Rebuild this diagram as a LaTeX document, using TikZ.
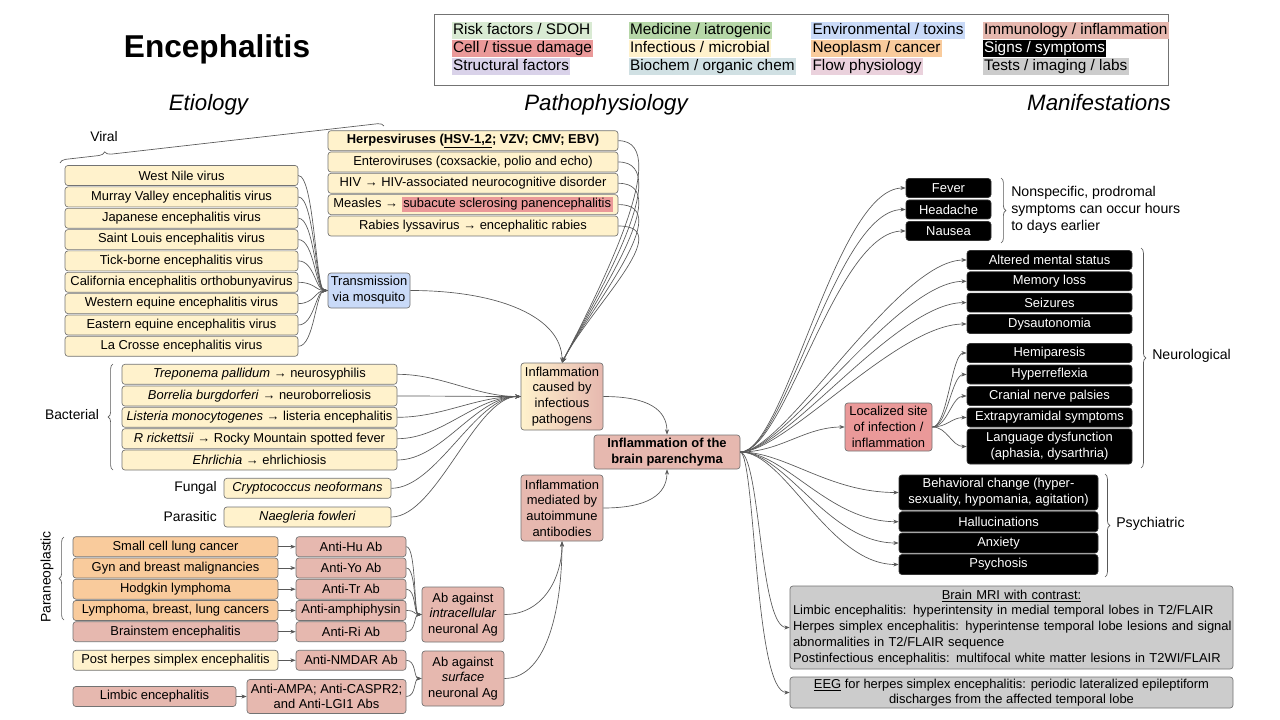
\documentclass[tikz,border=0pt]{standalone}
\usepackage{fontspec}
\setmainfont{Liberation Sans}
\usetikzlibrary{arrows.meta,decorations.pathreplacing}
\definecolor{cinf}{HTML}{FFF2CC}
\definecolor{cneo}{HTML}{F9CB9C}
\definecolor{cimm}{HTML}{E6B8AF}
\definecolor{ccell}{HTML}{EA9999}
\definecolor{cenv}{HTML}{C9DAF8}
\definecolor{crisk}{HTML}{D9EAD3}
\definecolor{cmed}{HTML}{B6D7A8}
\definecolor{cstr}{HTML}{D9D2E9}
\definecolor{cbio}{HTML}{D0E0E3}
\definecolor{cflow}{HTML}{EAD1DC}
\definecolor{ctest}{HTML}{CCCCCC}
\definecolor{cline}{HTML}{595959}
\newcommand\bxf{\fontsize{9.7}{11.8}\selectfont}
\newcommand\lgf{\fontsize{11.5}{13}\selectfont}
\newcommand\lbf{\fontsize{10.4}{12.6}\selectfont}
\newcommand\hdf{\fontsize{16.7}{20}\selectfont\itshape}
\begin{document}
\begin{tikzpicture}[x=0.75pt,y=-0.75pt,
  wh/.style 2 args={minimum width=#1*0.75pt,minimum height=#2*0.75pt},
  box/.style={draw=black!55,line width=0.5pt,rounded corners=2.2pt,inner sep=1pt,align=center,font=\bxf},
  inf/.style={box,fill=cinf},
  neo/.style={box,fill=cneo},
  imm/.style={box,fill=cimm},
  cell/.style={box,fill=ccell},
  envb/.style={box,fill=cenv},
  sym/.style={box,fill=black,draw=black!80,text=white},
  tst/.style={box,fill=ctest},
  conn/.style={draw=cline,line width=0.5pt,-{Stealth[length=4pt,width=3pt]}},
  brc/.style={draw=black!65,line width=0.5pt,decorate,decoration={brace,amplitude=3.6pt}},
  lg/.style={anchor=west,font=\lgf,inner xsep=1pt,inner ysep=0pt,text height=10pt,text depth=3.3pt},
  lbl/.style={font=\lbf,inner sep=0pt},
]
\fill[white] (0,0) rectangle (1280,720);
\useasboundingbox (0,0) rectangle (1280,720);

% titles
\node[font=\fontsize{23.7}{28}\selectfont\bfseries,anchor=base] (title) at (217,58) {Encephalitis};
\node[font=\hdf,anchor=base] (hEt) at (208.5,110.5) {Etiology};
\node[font=\hdf,anchor=base] (hPa) at (606,110.5) {Pathophysiology};
\node[font=\hdf,anchor=base] (hMa) at (1099,110.5) {Manifestations};

% legend
\node[draw=black!55,line width=0.6pt,wh={734}{71},inner sep=0pt] (legend) at (801,49.5) {};
\node[lg,fill=crisk] (l1) at (451.5,30.5) {Risk factors / SDOH};
\node[lg,fill=ccell] (l2) at (451.5,48.5) {Cell / tissue damage};
\node[lg,fill=cstr] (l3) at (451.5,66.5) {Structural factors};
\node[lg,fill=cmed] (l4) at (628.5,30.5) {Medicine / iatrogenic};
\node[lg,fill=cinf] (l5) at (628.5,48.5) {Infectious / microbial};
\node[lg,fill=cbio] (l6) at (628.5,66.5) {Biochem / organic chem};
\node[lg,fill=cenv] (l7) at (811,30.5) {Environmental / toxins};
\node[lg,fill=cneo] (l8) at (811,48.5) {Neoplasm / cancer};
\node[lg,fill=cflow] (l9) at (811,66.5) {Flow physiology};
\node[lg,fill=cimm] (l10) at (982.5,30.5) {Immunology / inflammation};
\node[lg,fill=black,text=white] (l11) at (982.5,48.5) {Signs / symptoms};
\node[lg,fill=ctest] (l12) at (982.5,66.5) {Tests / imaging / labs};

% viral
\node[lbl] (lvir) at (104,137) {Viral};
\draw[brc,decoration={brace,amplitude=4.5pt,aspect=0.14}] (60,163) -- (384,126);
\node[inf,wh={233}{20}] (v1) at (181.5,175.5) {West Nile virus};
\node[inf,wh={233}{20}] (v2) at (181.5,196.9) {Murray Valley encephalitis virus};
\node[inf,wh={233}{20}] (v3) at (181.5,218.2) {Japanese encephalitis virus};
\node[inf,wh={233}{20}] (v4) at (181.5,239.6) {Saint Louis encephalitis virus};
\node[inf,wh={233}{20}] (v5) at (181.5,260.9) {Tick-borne encephalitis virus};
\node[inf,wh={233}{20}] (v6) at (181.5,282.3) {California encephalitis orthobunyavirus};
\node[inf,wh={233}{20}] (v7) at (181.5,303.6) {Western equine encephalitis virus};
\node[inf,wh={233}{20}] (v8) at (181.5,325.0) {Eastern equine encephalitis virus};
\node[inf,wh={233}{20}] (v9) at (181.5,346.3) {La Crosse encephalitis virus};
\node[envb,wh={82}{35}] (tm) at (369,290.5) {Transmission\\via mosquito};

\node[inf,wh={290}{20}] (t1) at (473,140.7) {\textbf{Herpesviruses (\underline{HSV-1,2}; VZV; CMV; EBV)}};
\node[inf,wh={290}{20}] (t2) at (473,162) {Enteroviruses (coxsackie, polio and echo)};
\node[inf,wh={290}{20}] (t3) at (473,183.3) {HIV → HIV-associated neurocognitive disorder};
\node[inf,wh={290}{20}] (t4) at (473,204.6) {Measles → {\setlength{\fboxsep}{1.2pt}\colorbox{ccell}{subacute sclerosing panencephalitis}}};
\node[inf,wh={290}{20}] (t5) at (473,226) {Rabies lyssavirus → encephalitic rabies};

% central
\node[box,left color=cinf,right color=cimm,wh={82}{67}] (cau) at (562,396.5) {Inflammation\\caused by\\infectious\\pathogens};
\node[imm,wh={82}{66}] (med) at (562,508) {Inflammation\\mediated by\\autoimmune\\antibodies};
\node[imm,wh={146}{34},font=\bxf\bfseries] (par) at (667,452) {Inflammation of the\\brain parenchyma};

% bacterial etc
\node[lbl] (lbac) at (72,415) {Bacterial};
\draw[brc] (113,470) -- (113,364);
\node[inf,wh={275}{20}] (b1) at (259.5,374.3) {\textit{Treponema pallidum} → neurosyphilis};
\node[inf,wh={275}{20}] (b2) at (259.5,396) {\textit{Borrelia burgdorferi} → neuroborreliosis};
\node[inf,wh={275}{20}] (b3) at (259.5,417.3) {\textit{Listeria monocytogenes} → listeria encephalitis};
\node[inf,wh={275}{20}] (b4) at (259.5,438.7) {\textit{R rickettsii} → Rocky Mountain spotted fever};
\node[inf,wh={275}{20}] (b5) at (259.5,460) {\textit{Ehrlichia} → ehrlichiosis};
\node[lbl,anchor=east] (lfun) at (217,488.3) {Fungal};
\node[inf,wh={167}{20}] (f1) at (307.5,488.3) {\textit{Cryptococcus neoformans}};
\node[lbl,anchor=east] (lpara) at (217,517) {Parasitic};
\node[inf,wh={167}{20}] (p1) at (307.5,517) {\textit{Naegleria fowleri}};

% paraneoplastic
\node[lbl,rotate=90] (lpar) at (47,577) {Paraneoplastic};
\draw[brc] (64,620) -- (64,537);
\node[neo,wh={205}{20}] (c1) at (175.5,546.7) {Small cell lung cancer};
\node[neo,wh={205}{20}] (c2) at (175.5,568) {Gyn and breast malignancies};
\node[neo,wh={205}{20}] (c3) at (175.5,589.2) {Hodgkin lymphoma};
\node[neo,wh={205}{20}] (c4) at (175.5,610.5) {Lymphoma, breast, lung cancers};
\node[imm,wh={205}{20}] (c5) at (175.5,631.7) {Brainstem encephalitis};
\node[inf,wh={205}{20}] (c6) at (175.5,660.3) {Post herpes simplex encephalitis};
\node[imm,wh={163}{20}] (c7) at (154.5,696.5) {Limbic encephalitis};
\node[imm,wh={110}{20}] (a1) at (351,546.7) {Anti-Hu Ab};
\node[imm,wh={110}{20}] (a2) at (351,568) {Anti-Yo Ab};
\node[imm,wh={110}{20}] (a3) at (351,589.2) {Anti-Tr Ab};
\node[imm,wh={110}{20}] (a4) at (351,610.5) {Anti-amphiphysin};
\node[imm,wh={110}{20}] (a5) at (351,631.7) {Anti-Ri Ab};
\node[imm,wh={110}{20}] (a6) at (351,660.3) {Anti-NMDAR Ab};
\node[imm,wh={159}{34}] (a7) at (326.5,696.5) {Anti-AMPA; Anti-CASPR2;\\and Anti-LGI1 Abs};
\node[imm,wh={82}{55}] (intra) at (463,614.5) {Ab against\\\textit{intracellular}\\neuronal Ag};
\node[imm,wh={82}{55}] (surf) at (463,678.5) {Ab against\\\textit{surface}\\neuronal Ag};

% manifestations
\node[sym,wh={85}{19}] (s1) at (948.5,188) {Fever};
\node[sym,wh={85}{19}] (s2) at (948.5,209.5) {Headache};
\node[sym,wh={85}{19}] (s3) at (948.5,231) {Nausea};
\draw[brc] (1001,178) -- (1001,243);
\node[anchor=west,align=left,inner sep=0pt,font=\fontsize{10.6}{12.8}\selectfont] (nsp) at (1011,209.5) {Nonspecific, prodromal\\symptoms can occur hours\\to days earlier};

\node[sym,wh={165}{19}] (n1) at (1049.5,260) {Altered mental status};
\node[sym,wh={165}{19}] (n2) at (1049.5,281.3) {Memory loss};
\node[sym,wh={165}{19}] (n3) at (1049.5,302.6) {Seizures};
\node[sym,wh={165}{19}] (n4) at (1049.5,324) {Dysautonomia};
\node[sym,wh={165}{19}] (n5) at (1049.5,353) {Hemiparesis};
\node[sym,wh={165}{19}] (n6) at (1049.5,374.5) {Hyperreflexia};
\node[sym,wh={165}{19}] (n7) at (1049.5,396) {Cranial nerve palsies};
\node[sym,wh={165}{19}] (n8) at (1049.5,417.5) {Extrapyramidal symptoms};
\node[sym,wh={165}{35}] (n9) at (1049.5,446.5) {Language dysfunction\\(aphasia, dysarthria)};
\draw[brc] (1141,248) -- (1141,468);
\node[anchor=west,inner sep=0pt,font=\fontsize{10.6}{12.8}\selectfont] (lneu) at (1152,356) {Neurological};
\node[cell,wh={87}{48}] (loc) at (888.5,427) {Localized site\\of infection /\\inflammation};

\node[sym,wh={199}{35}] (ps1) at (998.5,492.5) {Behavioral change (hyper-\\sexuality, hypomania, agitation)};
\node[sym,wh={199}{20}] (ps2) at (998.5,521.7) {Hallucinations};
\node[sym,wh={199}{20}] (ps3) at (998.5,543) {Anxiety};
\node[sym,wh={199}{20}] (ps4) at (998.5,564.5) {Psychosis};
\draw[brc] (1105,474) -- (1105,577);
\node[anchor=west,inner sep=0pt,font=\fontsize{10.6}{12.8}\selectfont] (lpsy) at (1116,524) {Psychiatric};

\node[tst,wh={443}{83},text width=327.75pt,align=left,font=\fontsize{9.7}{11.9}\selectfont] (mri) at (1011.5,627.5) {\makebox[\linewidth]{\underline{Brain MRI with contrast:}}\\
\mbox{Limbic encephalitis: hyperintensity in medial temporal lobes in T2/FLAIR}\\
\mbox{Herpes simplex encephalitis: hyperintense temporal lobe lesions and signal}\\
\mbox{abnormalities in T2/FLAIR sequence}\\
\mbox{Postinfectious encephalitis: multifocal white matter lesions in T2WI/FLAIR}};
\node[tst,wh={443}{31},font=\fontsize{9.7}{11}\selectfont] (eeg) at (1011.5,692.5) {\underline{EEG} for herpes simplex encephalitis: periodic lateralized epileptiform\\discharges from the affected temporal lobe};

% connectors
\foreach \n in {v1,v2,v3,v4,v5,v6,v7,v8,v9}
  \draw[conn] (\n.east) .. controls +(16,0) and +(-12,0) .. (tm.west);
\foreach \n in {t1,t2,t3,t4,t5}
  \draw[conn] (\n.east) .. controls +(60,0) and +(28,-55) .. (cau.north);
\draw[conn] (tm.east) .. controls +(90,0) and +(0,-45) .. (cau.north);
\foreach \n in {b1,b2,b3,b4,b5,f1,p1}
  \draw[conn] (\n.east) .. controls +(45,0) and +(-45,0) .. (cau.west);
\draw[conn] (cau.east) .. controls +(45,0) and +(0,-25) .. (par.north);
\draw[conn] (med.east) .. controls +(45,0) and +(0,25) .. (par.south);
\foreach \i in {1,...,7}
  \draw[conn] (c\i.east) -- (a\i.west);
\foreach \i in {1,...,5}
  \draw[conn] (a\i.east) .. controls +(10,0) and +(-8,0) .. (intra.west);
\foreach \i in {6,7}
  \draw[conn] (a\i.east) .. controls +(10,0) and +(-8,0) .. (surf.west);
\draw[conn] (intra.east) .. controls +(40,0) and +(0,35) .. (med.south);
\draw[conn] (surf.east) .. controls +(45,0) and +(0,60) .. (med.south);
\foreach \n in {s1,s2,s3,n1,n2,n3,n4,ps1,ps2,ps3,ps4}
  \draw[conn] (par.east) .. controls +(45,0) and +(-70,0) .. (\n.west);
\draw[conn] (par.east) .. controls +(40,0) and +(-40,0) .. (loc.west);
\draw[conn] (par.east) .. controls +(20,5) and +(-30,0) .. (mri.west);
\draw[conn] (par.east) .. controls +(15,5) and +(-35,0) .. (eeg.west);
\foreach \n in {n5,n6,n7,n8,n9}
  \draw[conn] (loc.east) .. controls +(15,0) and +(-15,0) .. (\n.west);
\end{tikzpicture}
\end{document}
